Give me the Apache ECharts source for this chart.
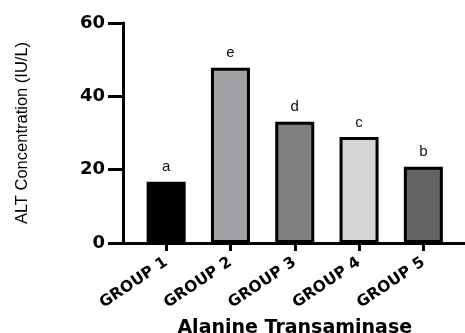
<!DOCTYPE html>
<html><head><meta charset="utf-8">
<script src="https://cdn.jsdelivr.net/npm/echarts@6/dist/echarts.min.js"></script>
<style>html,body{margin:0;padding:0;background:#fff}#c{width:465px;height:333px}</style>
</head><body><div id="c"></div>
<script>
const categories = ['GROUP 1','GROUP 2','GROUP 3','GROUP 4','GROUP 5'];
const values = [16.7, 47.8, 33.1, 28.9, 20.8];
const letters = ['a','e','d','c','b'];
const colors = ['#000000','#a2a1a6','#808080','#d5d5d5','#636363'];
const yTicks = [0, 20, 40, 60];

const chart = echarts.init(document.getElementById('c'));
const boldFont = '"DejaVu Sans", sans-serif';
chart.setOption({
  animation: false,
  grid: [
    {left: 134, width: 321.5, top: 23, height: 220, outerBoundsMode: 'none', containLabel: false},
    {left: 123, right: 0, top: 23, height: 220, outerBoundsMode: 'none', containLabel: false}
  ],
  xAxis: [
    {type: 'category', gridIndex: 0, data: categories,
     axisLine: {show: false},
     axisTick: {show: true, alignWithLabel: true, length: 8, lineStyle: {color: '#000', width: 3}},
     axisLabel: {rotate: 34, margin: 18, color: '#000', fontFamily: boldFont, fontWeight: 'bold', fontSize: 15.5},
     name: 'Alanine Transaminase', nameLocation: 'middle', nameGap: 76,
     nameTextStyle: {color: '#000', fontFamily: boldFont, fontWeight: 'bold', fontSize: 19}},
    {type: 'value', gridIndex: 1, min: 0, max: 1,
     axisLine: {show: true, lineStyle: {color: '#000', width: 3}},
     axisTick: {show: false}, axisLabel: {show: false}, splitLine: {show: false}}
  ],
  yAxis: [
    {type: 'value', gridIndex: 0, min: 0, max: 60, interval: 20, show: false, splitLine: {show: false}},
    {type: 'value', gridIndex: 1, min: yTicks[0], max: yTicks[yTicks.length-1], interval: yTicks[1]-yTicks[0],
     axisLine: {show: true, lineStyle: {color: '#000', width: 3}},
     axisTick: {show: true, length: 15, lineStyle: {color: '#000', width: 3}},
     axisLabel: {margin: 18, color: '#000', fontFamily: boldFont, fontWeight: 'bold', fontSize: 18},
     splitLine: {show: false},
     name: 'ALT Concentration (IU/L)', nameLocation: 'middle', nameGap: 92,
     nameTextStyle: {color: '#000', fontFamily: '"Liberation Sans", sans-serif', fontSize: 16.5}}
  ],
  series: [{
    type: 'bar', xAxisIndex: 0, yAxisIndex: 0, barWidth: 39,
    data: values.map((v, i) => ({value: v, itemStyle: {color: colors[i], borderColor: '#000', borderWidth: 3}})),
    label: {show: true, position: 'top', distance: 7, color: '#111', fontFamily: '"Liberation Sans", sans-serif', fontSize: 15,
      formatter: p => letters[p.dataIndex]}
  }]
});
</script></body></html>
